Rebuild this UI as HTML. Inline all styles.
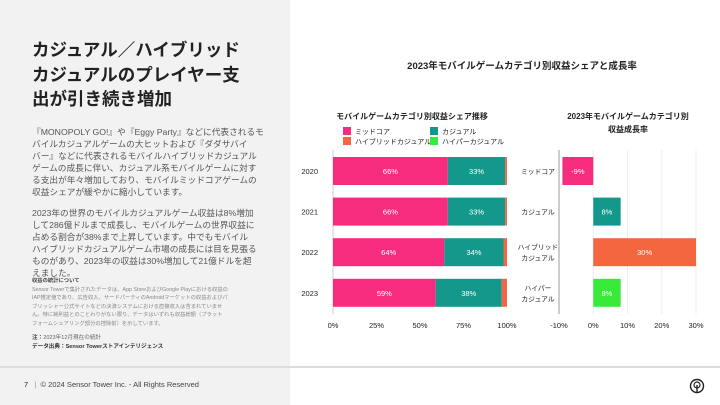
<!DOCTYPE html>
<html><head><meta charset="utf-8">
<style>
*{margin:0;padding:0;box-sizing:border-box}
body{width:720px;height:405px;overflow:hidden;background:#fff;font-family:"Liberation Sans","Noto Sans CJK JP",sans-serif;color:#222;position:relative}
#left{position:absolute;left:0;top:0;width:290px;height:405px;background:#f2f2f2}
.t{position:absolute;left:32px;font-size:17.5px;font-weight:bold;line-height:24.5px;color:#222;top:38px;width:250px}
.p{position:absolute;left:32px;width:258px;font-size:8.7px;line-height:12px;color:#555;white-space:nowrap}
.small{position:absolute;left:32px;width:258px;font-size:5.3px;line-height:8.6px;color:#888;white-space:nowrap}
#hr{position:absolute;left:0;top:366px;width:720px;height:2px;background:#ddd}
#foot{position:absolute;left:24px;top:380px;font-size:7.5px;color:#444}
svg{position:absolute;left:0;top:0}
</style></head><body>
<div id="left"></div>
<div class="t">カジュアル／ハイブリッド<br>カジュアルのプレイヤー支<br>出が引き続き増加</div>
<div class="p" style="top:126px">『MONOPOLY GO!』や『Eggy Party』などに代表されるモ<br>バイルカジュアルゲームの大ヒットおよび『ダダサバイ<br>バー』などに代表されるモバイルハイブリッドカジュアル<br>ゲームの成長に伴い、カジュアル系モバイルゲームに対す<br>る支出が年々増加しており、モバイルミッドコアゲームの<br>収益シェアが緩やかに縮小しています。</div>
<div class="p" style="top:207px">2023年の世界のモバイルカジュアルゲーム収益は8%増加<br>して286億ドルまで成長し、モバイルゲームの世界収益に<br>占める割合が38%まで上昇しています。中でもモバイル<br>ハイブリッドカジュアルゲーム市場の成長には目を見張る<br>ものがあり、2023年の収益は30%増加して21億ドルを超<br>えました。</div>
<div class="small" style="top:277px"><b style="color:#444">収益の統計について</b><br>Sensor Towerで集計されたデータは、App StoreおよびGoogle Playにおける収益の<br>IAP推定値であり、広告収入、サードパーティのAndroidマーケットの収益およびパ<br>ブリッシャー公式サイトなどの決済システムにおける直接収入は含まれていませ<br>ん。特に純利益とのことわりがない限り、データはいずれも収益総額（プラット<br>フォームシェアリング部分の控除前）を示しています。</div>
<div class="small" style="top:334px;color:#666;font-size:5.6px"><b style="color:#444">注：</b>2023年12月現在の統計<br><b style="color:#333">データ出典：Sensor Towerストアインテリジェンス</b></div>
<div id="hr"></div>
<div id="foot"><b style="font-weight:normal;color:#222">7</b>&nbsp;&nbsp;&nbsp;<span style="color:#999">|</span>&nbsp;&nbsp;© 2024 Sensor Tower Inc. - All Rights Reserved</div>
<svg id="chart" width="720" height="405"></svg>
<script>
const years=["2020","2021","2022","2023"];
const midcore=[66,66,64,59];
const casual=[33,33,34,38];
const hybrid=[1,1,2,3];
const hyper=[0,0,0,0];
const shareTicks=[0,25,50,75,100];
const growthCats=[["ミッドコア"],["カジュアル"],["ハイブリッド","カジュアル"],["ハイパー","カジュアル"]];
const growthVals=[-9,8,30,8];
const growthTicks=[-10,0,10,20,30];
const colors={mid:"#f62d7e",cas:"#14988b",hyb:"#f36640",hyp:"#3aea3a"};
const growthColors=[colors.mid,colors.cas,colors.hyb,colors.hyp];
const NS="http://www.w3.org/2000/svg";
const svg=document.getElementById('chart');
function mk(tag,attrs,parent){const e=document.createElementNS(NS,tag);for(const k in attrs)e.setAttribute(k,attrs[k]);(parent||svg).appendChild(e);return e;}
function txt(x,y,s,o){const e=mk('text',Object.assign({x:x,y:y,'font-size':8,'text-anchor':'middle','fill':'#222'},o||{}));e.textContent=s;return e;}
let e=txt(522,69,"2023年モバイルゲームカテゴリ別収益シェアと成長率",{'font-size':9.5,'font-weight':'bold'});


e=txt(412,119,"モバイルゲームカテゴリ別収益シェア推移",{'font-size':8,'font-weight':'bold'});


e=txt(628,119,"2023年モバイルゲームカテゴリ別",{'font-size':8,'font-weight':'bold'});


txt(628,132,"収益成長率",{'font-size':8,'font-weight':'bold'});
const legend=[["ミッドコア",colors.mid,343,134],["カジュアル",colors.cas,430,134],["ハイブリッドカジュアル",colors.hyb,343,144],["ハイパーカジュアル",colors.hyp,430,144]];
legend.forEach(l=>{const g=mk('g',{});


mk('rect',{x:l[2],y:l[3]-7,width:8,height:8,fill:l[1]},g);
const t=mk('text',{x:l[2]+12,y:l[3],'font-size':7,fill:'#222'},g);t.textContent=l[0];});
const x0=333,x1=507;
const sx=v=>x0+(x1-x0)*v/100;
const bh=28;
const by=i=>157+i*40.6;
mk('line',{x1:x0,y1:150,x2:x0,y2:314,stroke:'#ccc','stroke-width':1});
shareTicks.forEach(t=>{const e=txt(sx(t),328,t+"%",{'font-size':7.5});

});
years.forEach((y,i)=>{
 const yy=by(i);
 const e=txt(318,yy+bh/2+3,y,{'font-size':7.5,'text-anchor':'end'});
 
 
 let acc=0;
 [[midcore[i],colors.mid],[casual[i],colors.cas],[hybrid[i],colors.hyb],[hyper[i],colors.hyp]].forEach((s,k)=>{
  if(s[0]<=0)return;
  const r=mk('rect',{x:sx(acc),y:yy,width:sx(acc+s[0])-sx(acc),height:bh,fill:s[1]});
  
  
  if(s[0]>=5){txt((sx(acc)+sx(acc+s[0]))/2,yy+bh/2+3,s[0]+"%",{'font-size':7.5,fill:'#fff'});}
  acc+=s[0];
 });
});
const g0=559,g1=696;
const gx=v=>g0+(g1-g0)*(v+10)/40;
growthTicks.forEach(t=>{
 if(t>-10)mk('line',{x1:gx(t),y1:150,x2:gx(t),y2:314,stroke:'#eee','stroke-width':1});
 const e=txt(gx(t),328,t+"%",{'font-size':7.5});
 
 
});
mk('line',{x1:g0,y1:150,x2:g0,y2:314,stroke:'#999','stroke-width':1});
growthCats.forEach((c,i)=>{
 const yy=by(i),v=growthVals[i];
 c.forEach((s,j)=>{const e=txt(538,yy+bh/2+3+(j-(c.length-1)/2)*11,s,{'font-size':6.8});
 
 });
 const xa=gx(Math.min(0,v)),xb=gx(Math.max(0,v));
 const r=mk('rect',{x:xa,y:yy,width:xb-xa,height:bh,fill:growthColors[i]});
 
 
 txt((xa+xb)/2,yy+bh/2+3,v+"%",{'font-size':7.5,fill:'#fff'});
});
const lg=mk('g',{});


mk('circle',{cx:697,cy:386,r:6.5,fill:'none',stroke:'#222','stroke-width':1.4},lg);
mk('circle',{cx:697,cy:385,r:3,fill:'none',stroke:'#222','stroke-width':1.2},lg);
mk('line',{x1:697,y1:385,x2:697,y2:392,stroke:'#222','stroke-width':1.4},lg);
</script>
</body></html>
